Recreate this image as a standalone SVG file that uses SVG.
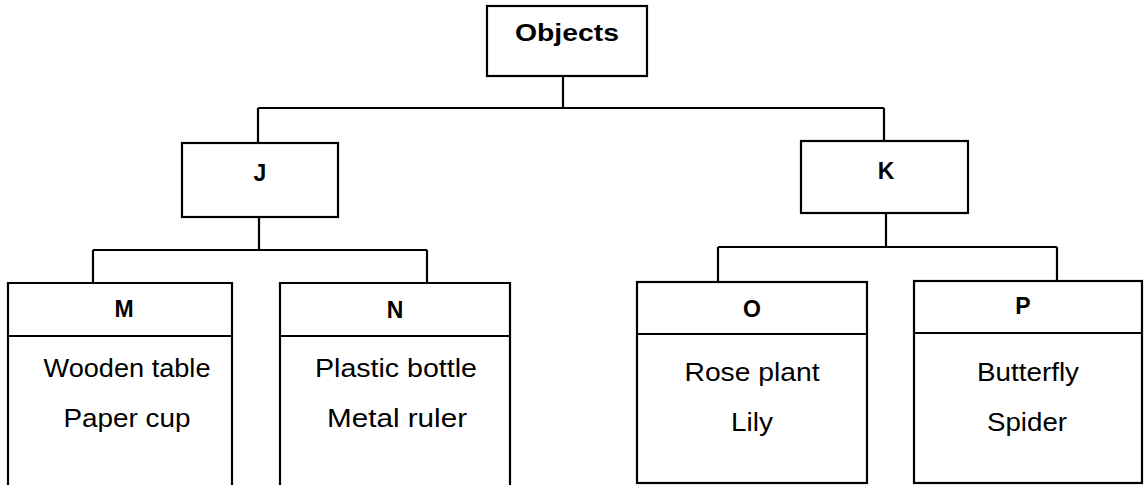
<svg xmlns="http://www.w3.org/2000/svg" width="1144" height="485" viewBox="0 0 1144 485">
<style>
.box{fill:#fff;stroke:#000;stroke-width:2.2}
.ln{fill:none;stroke:#000;stroke-width:2.2}
.h{font-family:"Liberation Sans",Arial,sans-serif;font-weight:bold;font-size:23px;text-anchor:middle;fill:#000}
.t{font-family:"Liberation Sans",Arial,sans-serif;font-size:25px;text-anchor:middle;fill:#000}
</style>
<rect width="1144" height="485" fill="#fff"/>
<g id="connectors">
<path class="ln" d="M563 76V108M258 108H884M258 108V143M884 108V141"/>
<path class="ln" d="M259 217V250M93 250H427M93 250V283M427 250V283"/>
<path class="ln" d="M886 213V247M718 247H1057M718 247V282M1057 247V281"/>
</g>
<g id="objects">
<rect class="box" x="487" y="6" width="160" height="70"/>
<text class="h" x="567" y="41" font-size="25" textLength="104" lengthAdjust="spacingAndGlyphs">Objects</text>
</g>
<g id="J">
<rect class="box" x="182" y="143" width="156" height="74"/>
<text class="h" x="260" y="181" font-size="25">J</text>
</g>
<g id="K">
<rect class="box" x="801" y="141" width="167" height="72"/>
<text class="h" x="886" y="179" font-size="25">K</text>
</g>
<g id="M">
<path class="ln" d="M8 490V283H232V490M8 336H232"/>
<text class="h" x="124" y="317">M</text>
<text class="t" x="127" y="377" textLength="167" lengthAdjust="spacingAndGlyphs">Wooden table</text>
<text class="t" x="127" y="427" textLength="127" lengthAdjust="spacingAndGlyphs">Paper cup</text>
</g>
<g id="N">
<path class="ln" d="M280 490V283H510V490M280 336H510"/>
<text class="h" x="395" y="318">N</text>
<text class="t" x="396" y="377" textLength="162" lengthAdjust="spacingAndGlyphs">Plastic bottle</text>
<text class="t" x="397" y="427" textLength="140" lengthAdjust="spacingAndGlyphs">Metal ruler</text>
</g>
<g id="O">
<rect class="box" x="637" y="282" width="230" height="201"/>
<path class="ln" d="M637 334H867"/>
<text class="h" x="752" y="317">O</text>
<text class="t" x="752" y="381" textLength="135" lengthAdjust="spacingAndGlyphs">Rose plant</text>
<text class="t" x="752" y="431" textLength="42" lengthAdjust="spacingAndGlyphs">Lily</text>
</g>
<g id="P">
<rect class="box" x="914" y="281" width="228" height="202"/>
<path class="ln" d="M914 333H1142"/>
<text class="h" x="1023" y="314">P</text>
<text class="t" x="1028" y="381" textLength="102" lengthAdjust="spacingAndGlyphs">Butterfly</text>
<text class="t" x="1027" y="431" textLength="80" lengthAdjust="spacingAndGlyphs">Spider</text>
</g>
</svg>
